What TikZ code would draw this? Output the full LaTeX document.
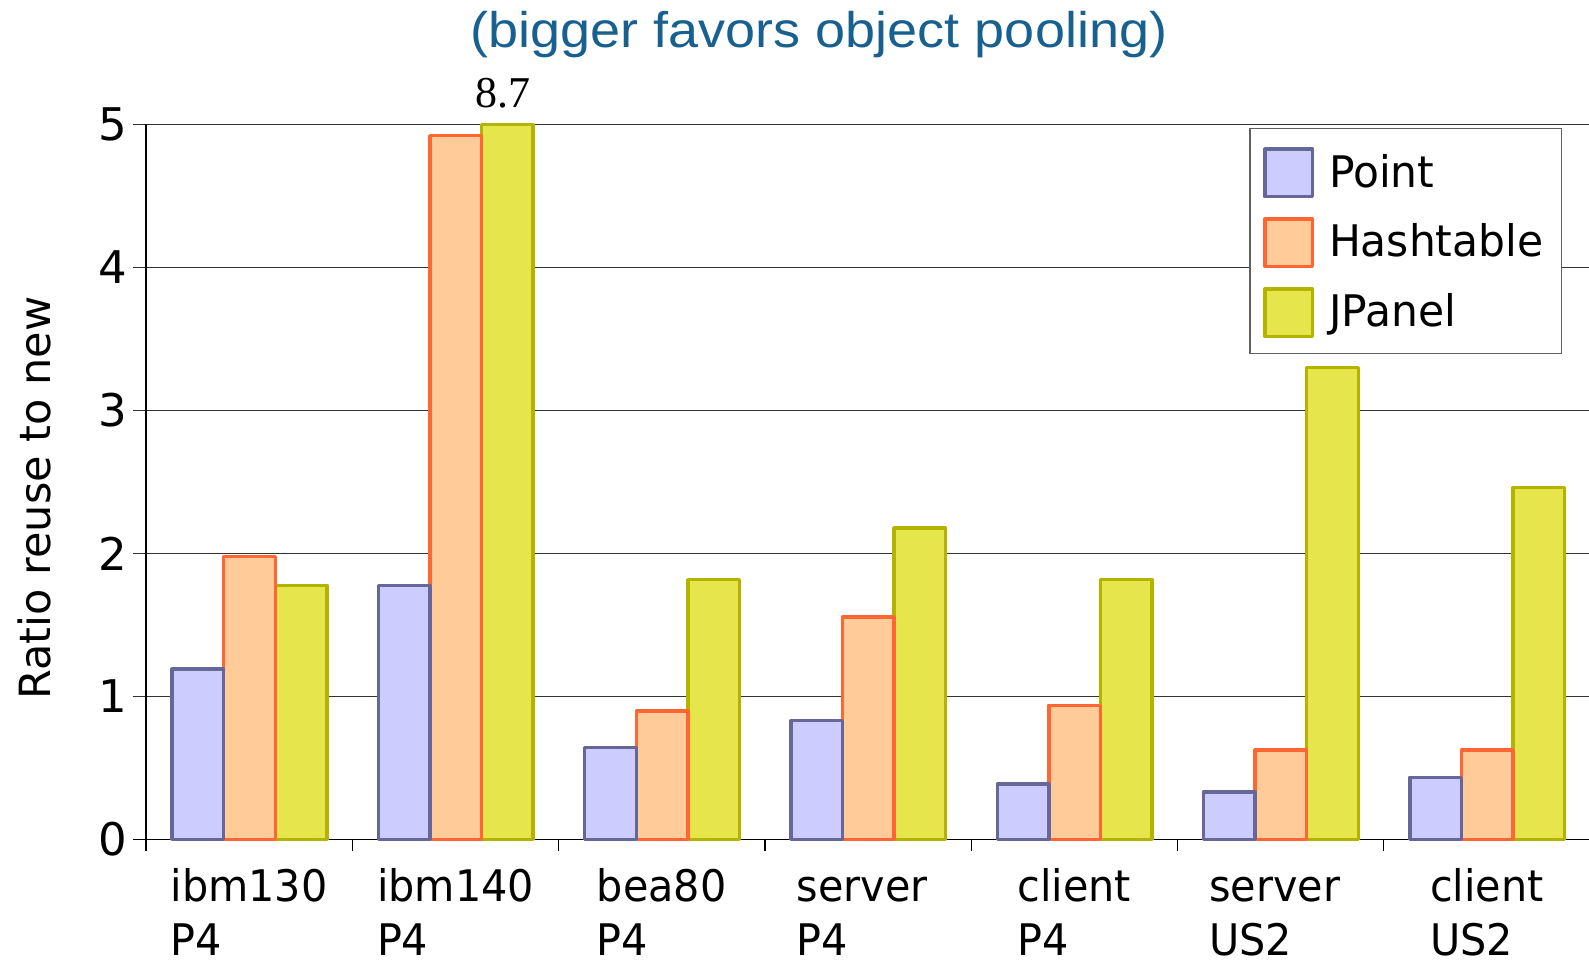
\documentclass[tikz,border=0pt]{standalone}
\usepackage{fontspec}
\usepackage{graphicx}
\setmainfont{DejaVu Sans}
\newfontfamily\catfont{DejaVu Sans}[FakeStretch=0.95]
\newfontfamily\keyfont{DejaVu Sans}[FakeStretch=0.975]
\newfontfamily\titlefont{Liberation Sans}
\newfontfamily\numfont{Liberation Serif}

\definecolor{pointfill}{HTML}{CCCCFF}
\definecolor{pointline}{HTML}{666699}
\definecolor{hashfill}{HTML}{FFCC99}
\definecolor{hashline}{HTML}{FF6633}
\definecolor{panelfill}{HTML}{E6E64C}
\definecolor{panelline}{HTML}{B3B300}
\definecolor{titleblue}{HTML}{17608F}
\definecolor{gridgray}{HTML}{333333}
\definecolor{framegray}{HTML}{606060}

\tikzset{
  barbox/.style={line width=3.4pt, line join=round},
  pointbar/.style={barbox, fill=pointfill, draw=pointline},
  hashbar/.style={barbox, fill=hashfill, draw=hashline},
  panelbar/.style={barbox, fill=panelfill, draw=panelline},
  gridrule/.style={draw=gridgray, line width=1.3pt},
  axisrule/.style={draw=black, line width=1.3pt},
  txt/.style={inner sep=0pt, outer sep=0pt},
  ticklabel/.style={txt, font=\fontsize{45}{54}\selectfont},
  catlabel/.style={txt, font=\catfont\fontsize{43.5}{52}\selectfont},
  legendtext/.style={txt, font=\keyfont\fontsize{43.5}{52}\selectfont},
  legendframe/.style={draw=framegray, fill=white, line width=1.3pt, inner sep=0pt},
}

\begin{document}
\begin{tikzpicture}[x=1pt,y=-1pt]
\useasboundingbox (0,0) rectangle (1589,960);

% plot geometry: zero line, unit height, category width, axis x, bar width
\def\yz{839.3}
\def\un{143}
\def\cw{206.3}
\def\xo{146}
\def\bw{51.6}

% horizontal grid
\foreach \v in {1,...,5}
  \draw[gridrule] (133,{\yz-\v*\un}) -- (1589,{\yz-\v*\un});

% axes and ticks
\draw[axisrule] (133,\yz) -- (1589,\yz);
\draw[axisrule] (\xo,{\yz-5*\un}) -- (\xo,851);
\foreach \i in {1,...,7}
  \draw[axisrule] ({\xo+\i*\cw},\yz) -- ({\xo+\i*\cw},851);

% bars: Point / Hashtable / JPanel per category
\foreach \i/\a/\b/\c in {0/1.19/1.976/1.776, 1/1.776/4.92/5, 2/0.643/0.897/1.816,
                         3/0.829/1.555/2.176, 4/0.387/0.937/1.815,
                         5/0.33/0.625/3.30, 6/0.434/0.625/2.46}{
  \pgfmathsetmacro\L{\xo+\i*\cw+26}
  \draw[panelbar] ({\L+2*\bw},\yz) rectangle ({\L+3*\bw},{\yz-\c*\un});
  \draw[hashbar]  ({\L+\bw},\yz)   rectangle ({\L+2*\bw},{\yz-\b*\un});
  \draw[pointbar] (\L,\yz)         rectangle ({\L+\bw},{\yz-\a*\un});
}

% clipped value above the tallest bar
\node[txt, anchor=base, font=\numfont\fontsize{44}{52}\selectfont] (clipval) at (503,108) {8.7};

% y tick labels
\foreach \v in {0,...,5}
  \node[ticklabel, anchor=east] (ytick\v) at (127.5,{\yz-\v*\un}) {\v};

% y axis title
\node[txt, rotate=90, font=\fontsize{43}{52}\selectfont] (ytitle) at (34.5,498) {Ratio reuse to new};

% category labels (two lines, left-aligned block centred on the category)
\foreach \i/\la/\lb/\dx in {0/ibm130/P4/0, 1/ibm140/P4/0, 2/bea80/P4/0, 3/server/P4/-6,
                            4/client/P4/0, 5/server/US2/-6, 6/client/US2/0}{
  \node[catlabel, anchor=base] (cat\i a) at ({\xo+(\i+0.5)*\cw+\dx},901.7) {\la};
  \node[catlabel, anchor=base west] (cat\i b) at ([yshift=-53.3pt]cat\i a.base west) {\lb};
}

% chart title
\node[txt, anchor=base, text=titleblue, font=\titlefont\fontsize{50}{60}\selectfont] (title) at (819,48)
  {\scalebox{1.08}[1]{(bigger favors object pooling)}};

% legend
\node[legendframe, anchor=north west, minimum width=311.7pt, minimum height=225pt] (legend) at (1249.3,127.7) {};
\draw[pointbar] (1264.8,149.2) rectangle (1312.5,196.8);
\draw[hashbar]  (1264.8,218.8) rectangle (1312.5,266.2);
\draw[panelbar] (1264.8,288.8) rectangle (1312.5,336.2);
\node[legendtext, anchor=base west] (legpoint) at (1329,187.3) {Point};
\node[legendtext, anchor=base west] (leghash)  at (1329,256.7) {Hashtable};
\node[legendtext, anchor=base west] (legpanel) at (1329,326.7) {JPanel};
\end{tikzpicture}
\end{document}
